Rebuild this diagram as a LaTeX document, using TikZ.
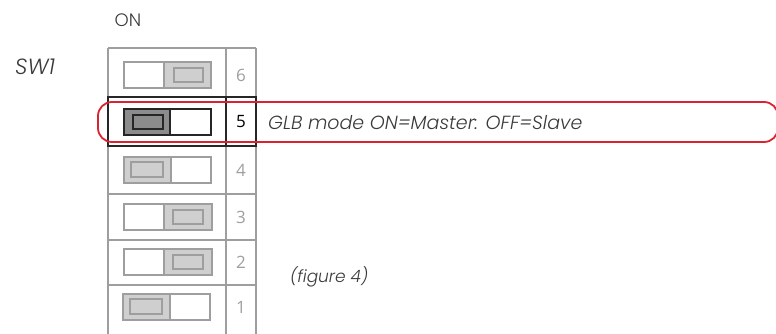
\documentclass[tikz,border=0pt]{standalone}
\usepackage{fontspec}
\setmainfont{Poppins}[UprightFont={* Light},ItalicFont={* Light Italic}]
\newfontfamily\numfont{Open Sans}
\definecolor{gridgray}{HTML}{9E9E9E}
\definecolor{lightfill}{HTML}{CFCFCF}
\definecolor{darkfill}{HTML}{8C8C8C}
\definecolor{txt}{HTML}{3A3A3A}
\definecolor{redline}{HTML}{D9232E}
\begin{document}
\begin{tikzpicture}[x=1pt,y=-1pt,
  gridline/.style={draw=gridgray,line width=1.3pt},
  boldline/.style={draw=black!85,line width=1.3pt},
  swbox/.style={line width=1.3pt},
  numlab/.style={font=\numfont\fontsize{17}{19}\selectfont,text=gridgray},
  lab/.style={font=\fontsize{19}{21}\selectfont\itshape,text=txt,inner sep=0pt},
]
\useasboundingbox (0,0) rectangle (776,334);
% grid
\foreach \y in {48,194,240,285} \draw[gridline] (108,\y) -- (256,\y);
\draw[gridline] (108,48) -- (108,334);
\draw[gridline] (226,48) -- (226,334);
\draw[gridline] (256,48) -- (256,334);
\draw[boldline] (108,97) rectangle (256,146);
\draw[boldline] (226,97) -- (226,146);
% switch 6 (right)
\draw[swbox,draw=gridgray,fill=white] (124,62) rectangle (164,88);
\draw[swbox,draw=gridgray,fill=lightfill] (164,62) rectangle (211,88);
\draw[swbox,draw=gridgray,fill=lightfill] (174,68) rectangle (203,82);
% switch 5 (left, dark)
\draw[swbox,draw=black!85,fill=darkfill] (124,109) rectangle (170,135);
\draw[swbox,draw=black!85,fill=white] (170,109) rectangle (211,135);
\draw[swbox,draw=black!85,fill=darkfill] (133,115) rectangle (163,129);
% switch 4 (left)
\draw[swbox,draw=gridgray,fill=lightfill] (124,157) rectangle (171,183);
\draw[swbox,draw=gridgray,fill=white] (171,157) rectangle (211,183);
\draw[swbox,draw=gridgray,fill=lightfill] (131,162) rectangle (163,177);
% switch 3 (right)
\draw[swbox,draw=gridgray,fill=white] (124,204) rectangle (164,230);
\draw[swbox,draw=gridgray,fill=lightfill] (164,204) rectangle (212,230);
\draw[swbox,draw=gridgray,fill=lightfill] (173,210) rectangle (203,224);
% switch 2 (right)
\draw[swbox,draw=gridgray,fill=white] (124,249) rectangle (164,275);
\draw[swbox,draw=gridgray,fill=lightfill] (164,249) rectangle (212,275);
\draw[swbox,draw=gridgray,fill=lightfill] (173,255) rectangle (203,269);
% switch 1 (left)
\draw[swbox,draw=gridgray,fill=lightfill] (123,294) rectangle (170,320);
\draw[swbox,draw=gridgray,fill=white] (170,294) rectangle (210,320);
\draw[swbox,draw=gridgray,fill=lightfill] (130,299) rectangle (162,314);
% numbers
\node[numlab] (n6) at (241,75) {6};
\node[numlab,text=black] (n5) at (241,122) {5};
\node[numlab] (n4) at (241,170) {4};
\node[numlab] (n3) at (241,217) {3};
\node[numlab] (n2) at (241,262) {2};
\node[numlab] (n1) at (241,307) {1};
% labels
\node[lab,font=\fontsize{18}{20}\selectfont] (on) at (128,20) {ON};
\node[lab,font=\fontsize{22}{24}\selectfont\itshape] (sw) at (35,67) {SW1};
\node[lab,anchor=west] (glb) at (268,123) {GLB mode ON=Master: OFF=Slave};
\node[lab,anchor=west,font=\fontsize{17}{19}\selectfont\itshape] (fig) at (290,277) {(figure 4)};
% red highlight
\draw[redline,line width=1.8pt,rounded corners=14pt] (98,102) rectangle (778,142);
\end{tikzpicture}
\end{document}
